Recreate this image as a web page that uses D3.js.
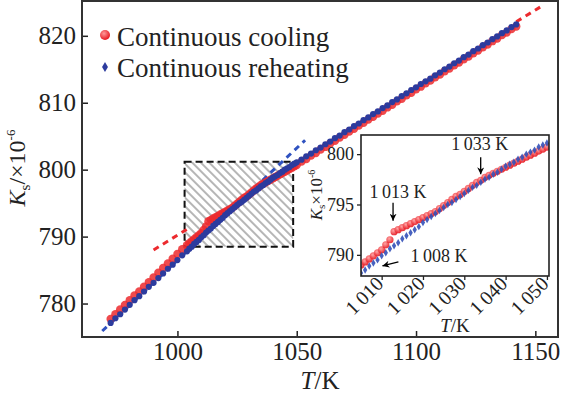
<!DOCTYPE html>
<html>
<head>
<meta charset="utf-8">
<script src="https://cdn.jsdelivr.net/npm/d3@7"></script>
<style>
  html, body { margin: 0; padding: 0; background: #fff; }
  svg { display: block; font-family: "Liberation Serif", "Times New Roman", serif; }
</style>
</head>
<body>
<svg id="chart" width="562" height="393"></svg>
<script>

// temperature of each sample (K)
var temps = [972,974,976,978,980,982,984,986,988,990,992,994,996,998,1000,1002,1004,
  1005,1006,1007,1008,1009,1010,1011,1012,1013,1014,1015,1016,1017,1018,1019,1020,
  1021,1022,1023,1024,1025,1026,1027,1028,1029,1030,1031,1032,1033,1034,1035,1036,
  1037,1038,1039,1040,1041,1042,1043,1044,1045,1046,1047,1048,1049,1050,
  1052,1054,1056,1058,1060,1062,1064,1066,1068,1070,1072,1074,1076,1078,1080,1082,
  1084,1086,1088,1090,1092,1094,1096,1098,1100,1102,1104,1106,1108,1110,1112,1114,
  1116,1118,1120,1122,1124,1126,1128,1130,1132,1134,1136,1138,1140,1142];

// Ks x 10^-6, continuous cooling
var cooling = [777.7,778.4,779.1,779.8,780.5,781.2,781.8,782.5,783.2,783.9,784.6,785.3,786.0,786.7,787.4,788.1,788.7,
  789.0,789.3,789.6,789.9,790.2,790.5,791.0,791.5,792.3,792.5,792.7,792.9,793.1,793.3,793.5,793.7,
  793.9,794.1,794.3,794.6,794.9,795.2,795.5,795.8,796.0,796.3,796.6,796.9,797.2,797.4,797.7,797.9,
  798.1,798.3,798.5,798.7,798.9,799.1,799.3,799.5,799.7,799.9,800.1,800.3,800.5,800.7,
  801.2,801.6,802.1,802.5,803.0,803.4,803.9,804.3,804.8,805.2,805.7,806.1,806.6,807.0,807.5,807.9,
  808.4,808.8,809.3,809.7,810.2,810.6,811.1,811.5,812.0,812.4,812.9,813.3,813.8,814.2,814.7,815.1,
  815.6,816.0,816.5,816.9,817.4,817.8,818.3,818.7,819.2,819.6,820.1,820.5,821.0,821.4];

// Ks x 10^-6, continuous reheating
var reheating = [777.1,777.8,778.4,779.1,779.8,780.5,781.1,781.8,782.5,783.1,783.8,784.5,785.2,785.8,786.5,787.2,787.8,
  788.2,788.5,788.9,789.2,789.5,789.9,790.2,790.6,790.9,791.2,791.6,791.9,792.2,792.5,792.8,793.2,
  793.5,793.8,794.1,794.4,794.7,795.0,795.2,795.5,795.8,796.1,796.4,796.7,796.9,797.2,797.5,797.7,
  798.0,798.2,798.5,798.8,799.0,799.2,799.5,799.7,800.0,800.2,800.4,800.7,800.9,801.1,
  801.5,802.0,802.4,802.9,803.3,803.8,804.2,804.7,805.1,805.6,806.0,806.5,806.9,807.4,807.8,808.3,
  808.7,809.2,809.6,810.1,810.5,811.0,811.4,811.9,812.3,812.8,813.2,813.6,814.1,814.5,815.0,815.4,
  815.9,816.3,816.8,817.2,817.7,818.1,818.6,819.0,819.5,819.9,820.4,820.8,821.3,821.7];

// extrapolated linear fits (dashed)
var coolFitT = [[990, 1004], [1142, 1153]];
var coolFitK = [[788.0, 791.1], [822.1, 824.5]];
var heatFitT = [968.5, 1053.5];
var heatFitK = [775.9, 804.4];

var xTicks = [1000, 1050, 1100, 1150];
var yTicks = [780, 790, 800, 810, 820];
var insetXTicks = [1010, 1020, 1030, 1040, 1050];
var insetYTicks = [790, 795, 800];

// hatched region that is enlarged in the inset
var zoomT = [1003, 1048.5];
var zoomK = [788.5, 801.2];

var annLabels = ["1\u2009013 K", "1\u2009033 K", "1\u2009008 K"];
var annT = [1013, 1033, 1008];

var legendLabels = ["Continuous cooling", "Continuous reheating"];

var red = "#ec2a2e", blue = "#2c3b9e";

var svg = d3.select("#chart");

var defs = svg.append("defs");
var hatch = defs.append("pattern")
  .attr("id", "hatch")
  .attr("patternUnits", "userSpaceOnUse")
  .attr("width", 6).attr("height", 6)
  .attr("patternTransform", "rotate(-45)");
hatch.append("line")
  .attr("x1", 3).attr("y1", 0).attr("x2", 3).attr("y2", 6)
  .attr("stroke", "#7a7a7a").attr("stroke-width", 1.1);

var grad = defs.append("radialGradient").attr("id", "ball")
  .attr("cx", "40%").attr("cy", "35%").attr("r", "65%");
grad.append("stop").attr("offset", "0%").attr("stop-color", "#ff9a9a");
grad.append("stop").attr("offset", "100%").attr("stop-color", "#e6161f");

defs.append("marker")
  .attr("id", "arrow")
  .attr("viewBox", "0 0 10 10")
  .attr("refX", 10).attr("refY", 5)
  .attr("markerWidth", 7).attr("markerHeight", 7)
  .attr("markerUnits", "userSpaceOnUse")
  .attr("orient", "auto")
  .append("path").attr("d", "M0,0L10,5L0,10L3,5Z").attr("fill", "#000");

defs.append("clipPath").attr("id", "insetClip")
  .append("rect").attr("x", 361).attr("y", 135).attr("width", 188).attr("height", 141);

// ---------- main plot ----------
var x = d3.scaleLinear().domain([960, 1159.5]).range([82, 558]);
var y = d3.scaleLinear().domain([775, 825.2]).range([337, 1]);

// hatched box
svg.append("rect")
  .attr("x", x(zoomT[0])).attr("y", y(zoomK[1]))
  .attr("width", x(zoomT[1]) - x(zoomT[0]))
  .attr("height", y(zoomK[0]) - y(zoomK[1]))
  .attr("fill", "url(#hatch)")
  .attr("stroke", "#111").attr("stroke-width", 2)
  .attr("stroke-dasharray", "7,4");

var line = d3.line().x(function(d) { return x(d[0]); }).y(function(d) { return y(d[1]); });

coolFitT.forEach(function(t, i) {
  svg.append("path")
    .attr("d", line([[t[0], coolFitK[i][0]], [t[1], coolFitK[i][1]]]))
    .attr("stroke", red).attr("stroke-width", 3).attr("fill", "none")
    .attr("stroke-dasharray", "6,5");
});
svg.append("path")
  .attr("d", line([[heatFitT[0], heatFitK[0]], [heatFitT[1], heatFitK[1]]]))
  .attr("stroke", "#2f52c0").attr("stroke-width", 3).attr("fill", "none")
  .attr("stroke-dasharray", "6,5");

svg.append("g").selectAll("circle")
  .data(temps)
  .enter()
  .append("circle")
  .attr("cx", function(d) { return x(d); })
  .attr("cy", function(d, i) { return y(cooling[i]); })
  .attr("r", 4.2)
  .attr("fill", red)
  .attr("fill-opacity", 0.85);

svg.append("g").selectAll("circle")
  .data(temps)
  .enter()
  .append("circle")
  .attr("cx", function(d) { return x(d); })
  .attr("cy", function(d, i) { return y(reheating[i]); })
  .attr("r", 3.1)
  .attr("fill", blue);

// axes
var xAxis = svg.append("g").attr("transform", "translate(0,337)")
  .call(d3.axisBottom(x).tickValues(xTicks).tickFormat(d3.format("d"))
    .tickSizeInner(-6).tickSizeOuter(0));
var yAxis = svg.append("g").attr("transform", "translate(82,0)")
  .call(d3.axisLeft(y).tickValues(yTicks).tickSizeInner(-6).tickSizeOuter(0).tickPadding(6));
[xAxis, yAxis].forEach(function(g) {
  g.select(".domain").remove();
  g.selectAll("line").attr("stroke", "#222").attr("stroke-width", 1.5);
  g.selectAll("text").attr("font-family", "Liberation Serif").attr("font-size", 25).attr("fill", "#222");
});
xAxis.selectAll("text").attr("y", 23).attr("dy", 0);

svg.append("rect")
  .attr("x", 82).attr("y", 1).attr("width", 476).attr("height", 336)
  .attr("fill", "none").attr("stroke", "#333").attr("stroke-width", 2);

svg.append("text")
  .attr("x", 320).attr("y", 389)
  .attr("text-anchor", "middle").attr("font-size", 25).attr("fill", "#222")
  .html('<tspan font-style="italic">T</tspan>/K');

svg.append("text")
  .attr("transform", "translate(25,168) rotate(-90)")
  .attr("text-anchor", "middle").attr("font-size", 24).attr("fill", "#222")
  .html('<tspan font-style="italic">K</tspan><tspan font-size="15" dy="5">s</tspan>' +
        '<tspan dy="-5">/\u00d710</tspan><tspan font-size="13" dy="-10">-6</tspan>');

// legend
var legend = svg.append("g");
legend.append("circle").attr("cx", 105).attr("cy", 35).attr("r", 5).attr("fill", "url(#ball)");
legend.append("path").attr("d", d3.symbol().type(d3.symbolDiamond).size(30))
  .attr("transform", "translate(105,67)").attr("fill", blue);
legend.selectAll("text")
  .data(legendLabels)
  .enter()
  .append("text")
  .attr("x", 117)
  .attr("y", function(d, i) { return 46 + i * 31; })
  .attr("font-size", 27).attr("fill", "#222")
  .text(function(d) { return d; });

// ---------- inset ----------
var xi = d3.scaleLinear().domain([1005, 1050.5]).range([361, 549]);
var yi = d3.scaleLinear().domain([787.9, 801.9]).range([276, 135]);

svg.append("rect")
  .attr("x", 361).attr("y", 135).attr("width", 188).attr("height", 141)
  .attr("fill", "#fff");

var insetIdx = temps.map(function(d, i) { return i; })
  .filter(function(i) { return temps[i] >= 1004 && temps[i] <= 1051; });

var inset = svg.append("g").attr("clip-path", "url(#insetClip)");
inset.selectAll("circle")
  .data(insetIdx)
  .enter()
  .append("circle")
  .attr("cx", function(i) { return xi(temps[i]); })
  .attr("cy", function(i) { return yi(cooling[i]); })
  .attr("r", 3.6)
  .attr("fill", "url(#ball)")
  .attr("fill-opacity", 0.9);

inset.selectAll("path")
  .data(insetIdx)
  .enter()
  .append("path")
  .attr("d", d3.symbol().type(d3.symbolDiamond).size(16))
  .attr("transform", function(i) { return "translate(" + xi(temps[i]) + "," + yi(reheating[i]) + ")"; })
  .attr("fill", "#3350b8")
  .attr("fill-opacity", 0.9);

var ixAxis = svg.append("g").attr("transform", "translate(0,276)")
  .call(d3.axisBottom(xi).tickValues(insetXTicks).tickSize(4).tickFormat(function() { return ""; }));
var iyAxis = svg.append("g").attr("transform", "translate(361,0)")
  .call(d3.axisLeft(yi).tickValues(insetYTicks).tickSize(4).tickPadding(3));
[ixAxis, iyAxis].forEach(function(g) {
  g.select(".domain").remove();
  g.selectAll("line").attr("stroke", "#222").attr("stroke-width", 1.3);
  g.selectAll("text").attr("font-family", "Liberation Serif").attr("font-size", 18).attr("fill", "#222");
});

svg.append("g").selectAll("text")
  .data(insetXTicks)
  .enter()
  .append("text")
  .attr("transform", function(d) { return "translate(" + (xi(d) + 3) + ",285) rotate(-45)"; })
  .attr("text-anchor", "end")
  .attr("font-size", 20).attr("fill", "#222")
  .text(function(d) { return "1\u2009" + String(d).slice(1); });

svg.append("rect")
  .attr("x", 361).attr("y", 135).attr("width", 188).attr("height", 141)
  .attr("fill", "none").attr("stroke", "#222").attr("stroke-width", 1.6);

svg.append("text")
  .attr("x", 455).attr("y", 332)
  .attr("text-anchor", "middle").attr("font-size", 19).attr("fill", "#222")
  .html('<tspan font-style="italic">T</tspan>/K');

svg.append("text")
  .attr("transform", "translate(322,195) rotate(-90)")
  .attr("text-anchor", "middle").attr("font-size", 17).attr("fill", "#222")
  .html('<tspan font-style="italic">K</tspan><tspan font-size="11" dy="3">s</tspan>' +
        '<tspan dy="-3">\u00d710</tspan><tspan font-size="10" dy="-7">-6</tspan>');

// annotations
function kAt(series, t) { return series[temps.indexOf(t)]; }

var ann = svg.append("g").attr("fill", "#222").attr("font-size", 18);
// 1013 K on cooling curve
var a0x = xi(annT[0]) - 1, a0y = yi(kAt(cooling, annT[0]));
ann.append("line").attr("x1", a0x).attr("x2", a0x).attr("y1", a0y - 29).attr("y2", a0y - 11)
  .attr("stroke", "#000").attr("stroke-width", 1.3).attr("marker-end", "url(#arrow)");
ann.append("text").attr("x", a0x + 5).attr("y", a0y - 34).attr("text-anchor", "middle").text(annLabels[0]);
// 1033 K where the curves merge
var a1x = xi(annT[1]) + 4, a1y = yi(kAt(cooling, annT[1]));
ann.append("line").attr("x1", a1x).attr("x2", a1x).attr("y1", a1y - 25).attr("y2", a1y - 8)
  .attr("stroke", "#000").attr("stroke-width", 1.3).attr("marker-end", "url(#arrow)");
ann.append("text").attr("x", a1x - 1).attr("y", a1y - 32).attr("text-anchor", "middle").text(annLabels[1]);
// 1008 K on reheating curve
var a2x = xi(annT[2]), a2y = yi(kAt(reheating, annT[2]));
ann.append("line").attr("x1", a2x + 25).attr("y1", a2y - 1).attr("x2", a2x + 9).attr("y2", a2y + 3)
  .attr("stroke", "#000").attr("stroke-width", 1.3).attr("marker-end", "url(#arrow)");
ann.append("text").attr("x", a2x + 37).attr("y", a2y - 1).text(annLabels[2]);

</script>
</body>
</html>
